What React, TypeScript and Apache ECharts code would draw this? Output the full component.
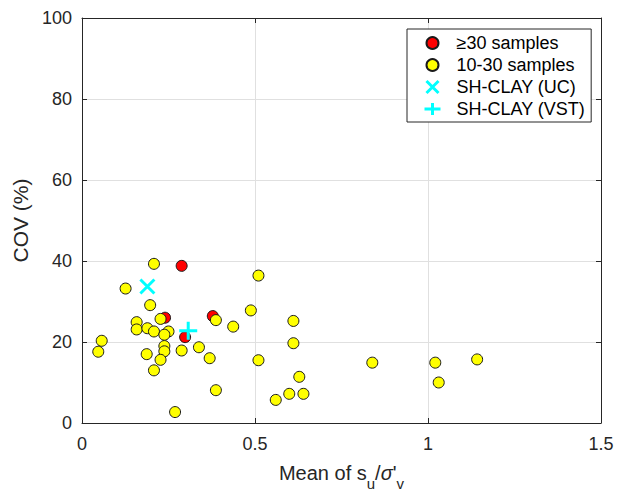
import React, { useEffect, useRef } from "react";
import * as echarts from "echarts";

const seriesNames = ["≥30 samples", "10-30 samples", "SH-CLAY (UC)", "SH-CLAY (VST)"];

const redX = [0.288, 0.24, 0.378, 0.298];
const redY = [38.8, 26.0, 26.4, 21.2];

const yellowX = [
  0.208, 0.51, 0.126, 0.197, 0.227, 0.387, 0.488, 0.437, 0.158, 0.158, 0.189, 0.208, 0.25,
  0.238, 0.057, 0.047, 0.238, 0.238, 0.187, 0.288, 0.338, 0.227, 0.369, 0.51, 0.208, 0.387,
  0.269, 0.611, 0.611, 0.839, 0.628, 0.599, 0.64, 0.56, 1.021, 1.031, 1.142,
];
const yellowY = [
  39.3, 36.4, 33.2, 29.1, 25.7, 25.4, 27.8, 23.8, 24.9, 23.1, 23.4, 22.6, 22.6,
  21.8, 20.3, 17.6, 19.0, 17.7, 17.0, 17.9, 18.7, 15.6, 16.0, 15.5, 13.0, 8.1,
  2.7, 25.2, 19.7, 14.9, 11.4, 7.2, 7.2, 5.7, 14.9, 10.0, 15.7,
];

const ucX = [0.189];
const ucY = [33.7];
const vstX = [0.307];
const vstY = [22.8];

const xMin = 0, xMax = 1.5, xStep = 0.5;
const yMin = 0, yMax = 100, yStep = 20;

const zip = (xs: number[], ys: number[]) => xs.map((x, i) => [x, ys[i]]);

const FONT = "'Liberation Sans', Arial, sans-serif";
const TXT = "#262626";
const CYAN = "#00ffff";

export default function App() {
  const ref = useRef<HTMLDivElement>(null);
  useEffect(() => {
    if (!ref.current) return;
    const chart = echarts.init(ref.current, null, { renderer: "svg" });
    const axisCommon = {
      type: "value" as const,
      axisLine: { show: true, onZero: false, lineStyle: { color: TXT, width: 1 } },
      axisTick: { show: true, inside: true, length: 5, lineStyle: { color: TXT } },
    };
    chart.setOption({
      animation: false,
      backgroundColor: "#ffffff",
      textStyle: { fontFamily: FONT },
      grid: { left: 82, right: 26, top: 18, bottom: 71, outerBoundsMode: "none", containLabel: false },
      legend: {
        left: 407,
        top: 29,
        orient: "vertical",
        data: [
          { name: seriesNames[0] },
          { name: seriesNames[1] },
          { name: seriesNames[2], icon: "path://M0,0L10,10M10,0L0,10", itemStyle: { borderColor: CYAN, borderWidth: 3 } },
          { name: seriesNames[3], icon: "path://M0,6L16,6M8,0L8,12", itemStyle: { borderColor: CYAN, borderWidth: 3 } },
        ],
        backgroundColor: "#ffffff",
        borderColor: TXT,
        borderWidth: 1,
        borderRadius: 0,
        padding: [5, 6, 4, 16],
        itemWidth: 20,
        itemHeight: 12,
        itemGap: 4,
        symbolKeepAspect: true,
        textStyle: {
          fontFamily: FONT,
          fontSize: 18,
          lineHeight: 18,
          color: "#000",
          padding: [0, 0, 0, 9],
        },
      },
      xAxis: [
        {
          ...axisCommon,
          min: xMin,
          max: xMax,
          interval: xStep,
          position: "bottom",
          axisLabel: { fontFamily: FONT, fontSize: 18, color: TXT, margin: 12 },
          splitLine: { show: true, lineStyle: { color: "#e0e0e0", width: 1 } },
          name: "Mean of s{sub|u}/{sig|σ}'{sub|v}",
          nameLocation: "middle",
          nameGap: 31,
          nameTextStyle: {
            fontFamily: FONT,
            fontSize: 20,
            color: TXT,
            rich: {
              sub: { fontFamily: FONT, fontSize: 15, color: TXT, padding: [22, 0, 0, 0] },
              sig: { fontFamily: FONT, fontSize: 20, color: TXT, fontStyle: "italic" },
            },
          },
        },
        {
          ...axisCommon,
          min: xMin,
          max: xMax,
          interval: xStep,
          position: "top",
          axisLabel: { show: false },
          splitLine: { show: false },
        },
      ],
      yAxis: [
        {
          ...axisCommon,
          min: yMin,
          max: yMax,
          interval: yStep,
          position: "left",
          axisLabel: { fontFamily: FONT, fontSize: 18, color: TXT, margin: 10 },
          splitLine: { show: true, lineStyle: { color: "#e0e0e0", width: 1 } },
          name: "COV (%)",
          nameLocation: "middle",
          nameGap: 42,
          nameTextStyle: { fontFamily: FONT, fontSize: 21, color: TXT },
        },
        {
          ...axisCommon,
          min: yMin,
          max: yMax,
          interval: yStep,
          position: "right",
          axisLabel: { show: false },
          splitLine: { show: false },
        },
      ],
      series: [
        {
          name: seriesNames[0],
          type: "scatter",
          symbol: "circle",
          symbolSize: 11,
          itemStyle: { color: "#ff0000", borderColor: "#1a1a1a", borderWidth: 1, opacity: 1 },
          data: zip(redX, redY),
        },
        {
          name: seriesNames[1],
          type: "scatter",
          symbol: "circle",
          symbolSize: 11,
          itemStyle: { color: "#ffff00", borderColor: "#1a1a1a", borderWidth: 1, opacity: 1 },
          data: zip(yellowX, yellowY),
        },
        {
          name: seriesNames[2],
          type: "scatter",
          symbol: "path://M0,0L10,10M10,0L0,10",
          symbolSize: 14,
          itemStyle: { color: CYAN, borderColor: CYAN, borderWidth: 3, opacity: 1 },
          data: zip(ucX, ucY),
        },
        {
          name: seriesNames[3],
          type: "scatter",
          symbol: "path://M5,0L5,10M0,5L10,5",
          symbolSize: 18,
          itemStyle: { color: CYAN, borderColor: CYAN, borderWidth: 3, opacity: 1 },
          data: zip(vstX, vstY),
        },
      ],
    });
    return () => chart.dispose();
  }, []);
  return (
    <div
      ref={ref}
      style={{ position: "fixed", left: 0, top: 0, width: 627, height: 494, background: "#fff" }}
    />
  );
}
